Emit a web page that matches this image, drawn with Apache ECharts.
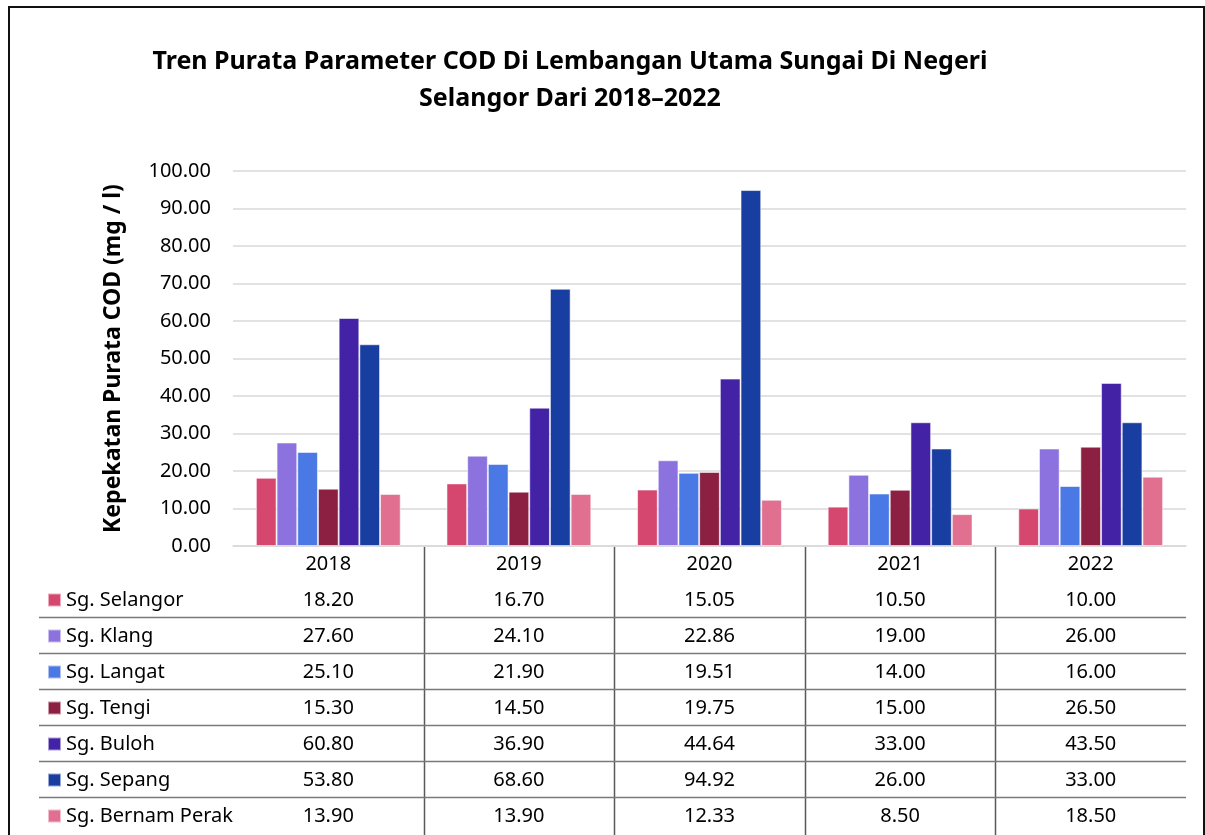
<!DOCTYPE html>
<html>
<head>
<meta charset="utf-8">
<script src="https://cdn.jsdelivr.net/npm/echarts@6/dist/echarts.min.js"></script>
<style>
  html, body { margin: 0; padding: 0; background: #fff; }
  #chart { width: 1205px; height: 835px; }
</style>
</head>
<body>
<div id="chart"></div>
<script>
// data
var years = ['2018', '2019', '2020', '2021', '2022'];
var riverNames = ['Sg. Selangor', 'Sg. Klang', 'Sg. Langat', 'Sg. Tengi', 'Sg. Buloh', 'Sg. Sepang', 'Sg. Bernam Perak'];
var selangor = [18.20, 16.70, 15.05, 10.50, 10.00];
var klang = [27.60, 24.10, 22.86, 19.00, 26.00];
var langat = [25.10, 21.90, 19.51, 14.00, 16.00];
var tengi = [15.30, 14.50, 19.75, 15.00, 26.50];
var buloh = [60.80, 36.90, 44.64, 33.00, 43.50];
var sepang = [53.80, 68.60, 94.92, 26.00, 33.00];
var bernam = [13.90, 13.90, 12.33, 8.50, 18.50];
var yTicks = [0, 100, 10]; // min, max, interval

var values = [selangor, klang, langat, tengi, buloh, sepang, bernam];
var colors = ['#d6476f', '#8b72de', '#4a78e4', '#8b2042', '#4322a6', '#173ea0', '#e06f90'];

var FONT = '"Noto Sans", "Open Sans", sans-serif';

// layout of the plot / data table
var gridLeft = 233;
var gridRight = 1186;
var gridTop = 171;
var axisY = 546;
var rowH = 36;
var firstRowLine = 617;

var chart = echarts.init(document.getElementById('chart'));

var series = [];
for (var i = 0; i < riverNames.length; i++) {
    series.push({
        name: riverNames[i],
        type: 'bar',
        data: values[i],
        barGap: '0%',
        barCategoryGap: '24%',
        itemStyle: {
            color: colors[i],
            borderColor: 'rgba(255,255,255,0.55)',
            borderWidth: 1
        }
    });
}

// table grid lines below the axis
var graphics = [];
var catW = (gridRight - gridLeft) / years.length;
for (var i = 1; i < years.length; i++) {
    var x = Math.round(gridLeft + i * catW) + 0.5;
    graphics.push({
        type: 'line',
        shape: { x1: x, y1: axisY, x2: x, y2: 835 },
        style: { stroke: '#5a5a5a', lineWidth: 1.5 }
    });
}
for (var k = 0; k < riverNames.length - 1; k++) {
    var y = firstRowLine + k * rowH + 0.5;
    graphics.push({
        type: 'line',
        shape: { x1: 39, y1: y, x2: gridRight, y2: y },
        style: { stroke: '#7a7a7a', lineWidth: 1.5 }
    });
}
// outer frame
graphics.push({
    type: 'rect',
    shape: { x: 9, y: 7, width: 1195, height: 850 },
    style: { fill: 'none', stroke: '#111', lineWidth: 2 }
});
// title
graphics.push({
    type: 'text',
    style: {
        text: 'Tren Purata Parameter COD Di Lembangan Utama Sungai Di Negeri\nSelangor Dari 2018\u20132022',
        x: 570,
        y: 43,
        align: 'center',
        fontFamily: FONT,
        fontWeight: 'bold',
        fontSize: 25,
        lineHeight: 37,
        fill: '#000'
    }
});

var option = {
    backgroundColor: '#fff',
    animation: false,
    color: colors,
    grid: {
        left: gridLeft,
        right: 1205 - gridRight,
        top: gridTop,
        bottom: 835 - axisY
    },
    legend: {
        orient: 'vertical',
        left: 47,
        top: 590,
        padding: 0,
        itemWidth: 13,
        itemHeight: 13,
        itemGap: 16,
        icon: 'rect',
        selectedMode: false,
        textStyle: { fontFamily: FONT, fontSize: 20, color: '#000' },
        data: riverNames
    },
    xAxis: {
        type: 'category',
        data: years,
        axisLine: { lineStyle: { color: '#d9d9d9', width: 1.5 } },
        axisTick: { show: false },
        axisLabel: {
            margin: 0,
            interval: 0,
            fontFamily: FONT,
            fontSize: 20,
            color: '#000',
            lineHeight: rowH,
            formatter: function (val, idx) {
                var lines = [val];
                for (var i = 0; i < values.length; i++) {
                    lines.push(values[i][idx].toFixed(2));
                }
                return lines.join('\n');
            }
        }
    },
    yAxis: {
        type: 'value',
        min: yTicks[0],
        max: yTicks[1],
        interval: yTicks[2],
        name: 'Kepekatan Purata COD (mg / l)',
        nameLocation: 'middle',
        nameRotate: 90,
        nameGap: 108,
        nameTextStyle: { fontFamily: FONT, fontSize: 23, fontWeight: 'bold', color: '#000' },
        axisLine: { show: false },
        axisTick: { show: false },
        axisLabel: {
            margin: 22,
            fontFamily: FONT,
            fontSize: 20,
            color: '#000',
            formatter: function (v) { return v.toFixed(2); }
        },
        splitLine: { lineStyle: { color: '#d9d9d9', width: 1.5 } }
    },
    graphic: graphics,
    series: series
};

chart.setOption(option);
</script>
</body>
</html>
